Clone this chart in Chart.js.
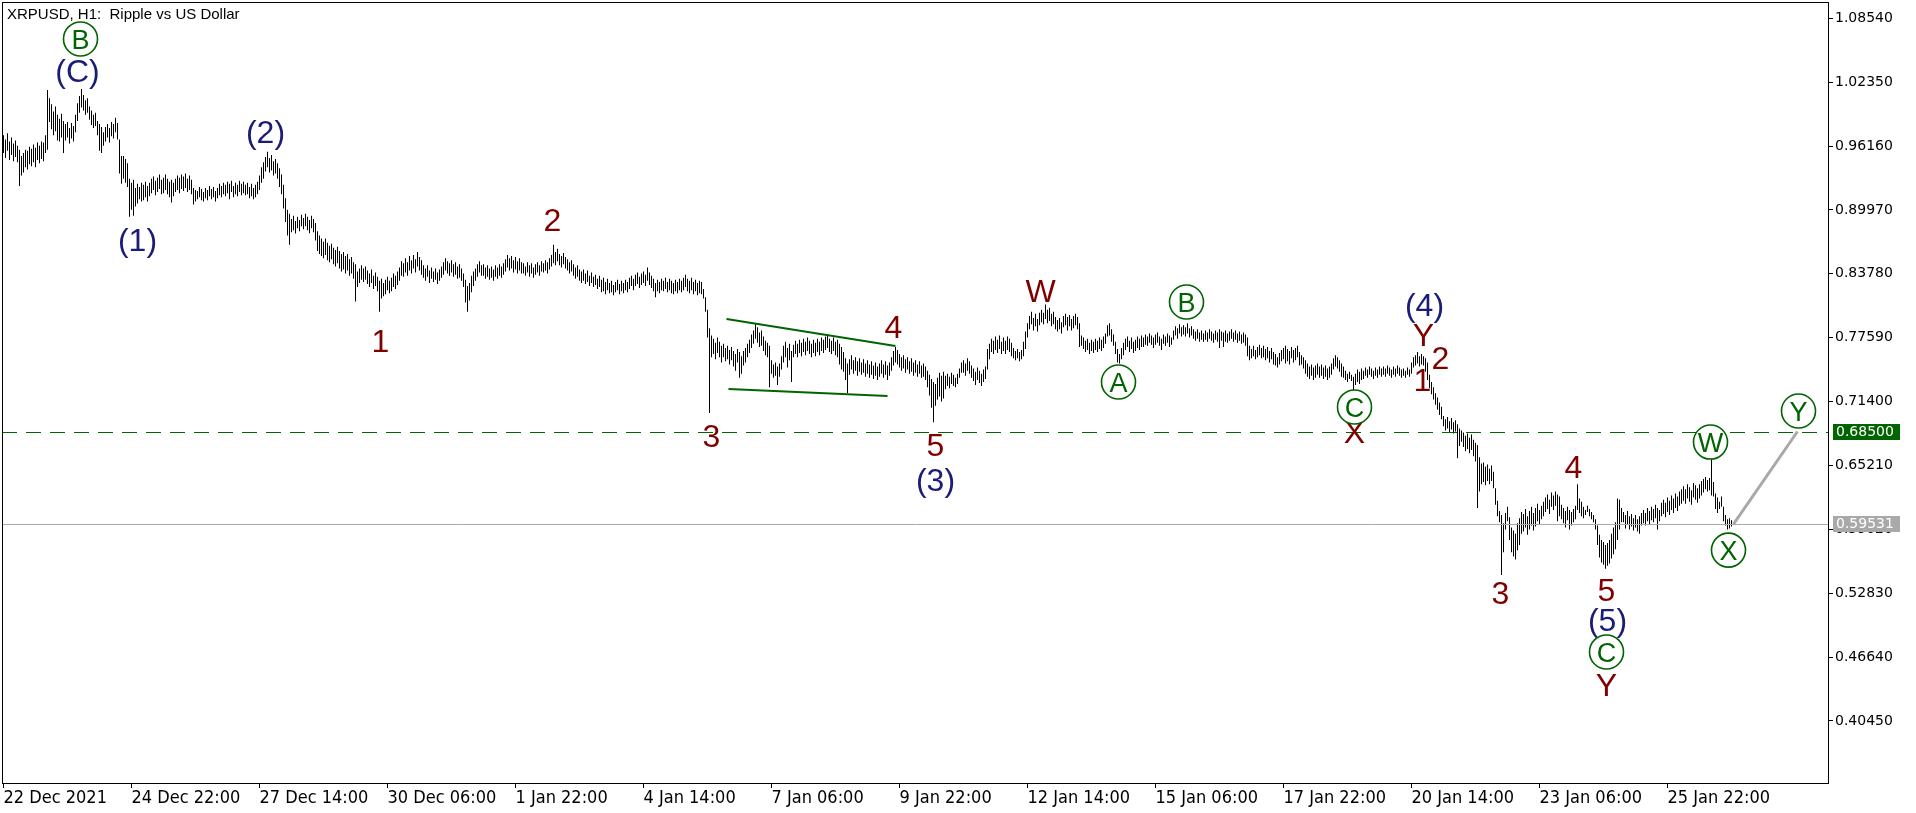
<!DOCTYPE html>
<html><head><meta charset="utf-8">
<script src="https://cdn.jsdelivr.net/npm/chart.js@4.4.1/dist/chart.umd.min.js"></script>
<style>html,body{margin:0;padding:0;background:#fff;overflow:hidden}canvas{display:block}</style>
</head><body>
<canvas id="c" width="1916" height="813"></canvas>
<script>
// ---- data (XRPUSD H1, first bar 22 Dec 2021 06:00) ----
const chartTitle = 'XRPUSD, H1:  Ripple vs US Dollar';
const timeLabels = ['22 Dec 2021','24 Dec 22:00','27 Dec 14:00','30 Dec 06:00','1 Jan 22:00','4 Jan 14:00','7 Jan 06:00','9 Jan 22:00','12 Jan 14:00','15 Jan 06:00','17 Jan 22:00','20 Jan 14:00','23 Jan 06:00','25 Jan 22:00'];
const timeLabelBars = [0,64,128,192,256,320,384,448,512,576,640,704,768,832];
const priceTicks = [1.0854,1.0235,0.9616,0.8997,0.8378,0.7759,0.7140,0.6521,0.5902,0.5283,0.4664,0.4045];

const barHigh = [
.972,.968,.974,.966,.970,.964,.967,.962,.958,.952,
.955,.958,.957,.961,.959,.963,.960,.965,.962,.966,
.965,.972,1.016,1.008,1.002,.995,1.000,.992,.988,.993,
.986,.983,.985,.979,.984,.981,.992,1.003,1.010,1.017,
1.011,1.006,1.008,1.000,.996,.992,.994,.986,.983,.980,
.975,.980,.983,.979,.985,.983,.989,.984,.968,.952,
.952,.949,.945,.930,.926,.929,.921,.925,.922,.926,
.924,.927,.923,.926,.930,.932,.928,.931,.934,.929,
.931,.934,.930,.927,.929,.926,.930,.933,.931,.934,
.932,.935,.930,.933,.929,.921,.919,.918,.922,.920,
.917,.921,.919,.923,.920,.922,.918,.921,.925,.923,
.926,.924,.927,.925,.928,.923,.926,.924,.928,.925,
.927,.924,.926,.922,.925,.921,.924,.927,.933,.941,
.946,.951,.956,.950,.953,.947,.949,.945,.940,.934,
.924,.911,.900,.896,.891,.894,.889,.893,.890,.895,
.892,.896,.893,.890,.894,.891,.887,.879,.875,.872,
.869,.872,.868,.865,.867,.863,.861,.864,.860,.857,
.859,.855,.857,.852,.854,.849,.847,.840,.843,.846,
.843,.845,.841,.838,.842,.836,.839,.835,.831,.833,
.829,.832,.835,.831,.834,.838,.836,.840,.844,.850,
.848,.853,.849,.855,.851,.856,.852,.859,.854,.851,
.846,.843,.846,.841,.844,.840,.843,.839,.842,.845,
.849,.853,.850,.848,.851,.847,.849,.845,.847,.843,
.838,.832,.826,.829,.836,.840,.843,.847,.850,.846,
.847,.844,.846,.843,.845,.842,.846,.844,.847,.845,
.848,.852,.856,.853,.855,.851,.854,.850,.853,.849,
.848,.845,.849,.846,.848,.844,.847,.849,.846,.850,
.848,.851,.849,.853,.856,.866,.859,.862,.857,.855,
.858,.854,.852,.849,.851,.847,.844,.846,.842,.840,
.842,.838,.841,.836,.839,.835,.837,.833,.836,.832,
.834,.830,.833,.829,.831,.827,.830,.832,.828,.831,
.829,.832,.830,.834,.836,.833,.837,.839,.835,.838,
.840,.837,.844,.839,.836,.833,.829,.832,.830,.833,
.831,.834,.830,.833,.831,.829,.832,.830,.833,.831,
.834,.837,.833,.831,.834,.830,.832,.829,.831,.830,
.823,.815,.803,.785,.778,.775,.771,.776,.772,.768,
.770,.766,.768,.764,.767,.763,.760,.765,.762,.758,
.763,.766,.770,.774,.779,.783,.790,.786,.781,.783,
.777,.773,.771,.768,.754,.750,.752,.748,.751,.758,
.768,.772,.766,.770,.763,.769,.773,.770,.774,.771,
.775,.772,.776,.773,.770,.774,.771,.775,.772,.776,
.774,.777,.779,.775,.773,.776,.772,.774,.770,.767,
.762,.756,.751,.755,.759,.754,.757,.753,.756,.752,
.755,.751,.754,.750,.753,.749,.752,.748,.751,.754,
.750,.753,.749,.752,.757,.763,.767,.764,.760,.757,
.759,.755,.757,.753,.756,.752,.754,.750,.753,.749,
.751,.748,.744,.740,.736,.733,.731,.737,.742,.739,
.743,.739,.741,.738,.742,.740,.737,.741,.746,.752,
.754,.751,.756,.753,.749,.746,.743,.747,.744,.741,
.745,.748,.765,.770,.775,.773,.777,.774,.778,.772,
.776,.773,.777,.775,.771,.766,.763,.765,.762,.764,
.772,.782,.790,.797,.801,.795,.799,.794,.800,.803,
.800,.808,.803,.805,.799,.801,.796,.793,.795,.791,
.797,.799,.796,.798,.794,.797,.799,.796,.790,.778,
.776,.773,.775,.771,.774,.772,.775,.773,.776,.774,
.777,.780,.788,.790,.784,.779,.772,.765,.760,.766,
.771,.775,.777,.773,.776,.772,.774,.777,.775,.778,
.776,.779,.777,.780,.778,.776,.779,.781,.777,.775,
.779,.777,.780,.778,.776,.783,.787,.785,.789,.786,
.788,.786,.790,.785,.787,.784,.782,.784,.781,.783,
.780,.783,.781,.784,.782,.780,.783,.781,.784,.782,
.781,.783,.780,.782,.784,.781,.783,.780,.782,.779,
.781,.779,.776,.768,.765,.768,.764,.767,.769,.766,
.768,.765,.767,.763,.766,.762,.760,.757,.761,.764,
.766,.768,.765,.763,.767,.764,.766,.768,.762,.759,
.757,.754,.751,.748,.750,.747,.749,.751,.748,.750,
.747,.749,.746,.748,.751,.756,.759,.757,.754,.751,
.748,.744,.741,.743,.740,.738,.741,.745,.743,.746,
.744,.747,.745,.748,.746,.744,.747,.745,.748,.746,
.748,.746,.749,.747,.745,.748,.746,.749,.747,.745,
.746,.744,.747,.745,.752,.757,.759,.762,.758,.760,
.758,.756,.752,.740,.733,.728,.722,.718,.713,.709,
.700,.697,.699,.695,.698,.694,.696,.692,.688,.686,
.684,.681,.683,.679,.682,.677,.674,.672,.660,.654,
.655,.651,.653,.649,.652,.646,.630,.618,.608,.604,
.596,.606,.612,.602,.592,.589,.586,.596,.601,.607,
.605,.610,.603,.608,.612,.606,.611,.615,.609,.613,
.617,.621,.624,.619,.626,.623,.627,.624,.622,.614,
.611,.608,.612,.609,.607,.610,.613,.634,.620,.617,
.612,.609,.613,.610,.607,.604,.600,.594,.585,.580,
.578,.575,.577,.580,.586,.592,.597,.620,.619,.611,
.607,.604,.608,.603,.605,.601,.604,.600,.603,.606,
.609,.606,.611,.608,.612,.610,.614,.611,.609,.616,
.619,.616,.621,.618,.623,.620,.625,.622,.627,.629,
.632,.629,.634,.631,.628,.635,.633,.630,.634,.637,
.639,.641,.638,.640,.659,.636,.625,.621,.617,.622,
.612,.604,.600,.601,.599
];
const barLow = [
.955,.950,.957,.948,.953,.947,.951,.946,.923,.933,
.936,.941,.939,.944,.942,.946,.941,.948,.945,.949,
.947,.955,.958,.985,.978,.972,.976,.967,.966,.970,
.955,.967,.970,.964,.969,.966,.975,.986,.994,.999,
.996,.992,.994,.987,.982,.979,.981,.972,.957,.955,
.962,.966,.970,.965,.971,.969,.975,.968,.935,.925,
.930,.926,.922,.893,.900,.894,.903,.906,.910,.908,
.909,.912,.908,.913,.916,.919,.914,.917,.920,.915,
.916,.919,.915,.912,.907,.913,.917,.919,.916,.920,
.918,.921,.917,.919,.915,.905,.908,.910,.912,.909,
.908,.911,.909,.913,.910,.912,.908,.911,.914,.912,
.915,.913,.916,.910,.917,.912,.915,.913,.917,.914,
.916,.914,.915,.911,.913,.910,.912,.915,.919,.926,
.930,.937,.941,.936,.938,.933,.935,.930,.922,.915,
.901,.888,.875,.866,.878,.880,.877,.882,.879,.884,
.881,.884,.880,.877,.882,.878,.870,.860,.857,.855,
.853,.856,.851,.849,.852,.847,.845,.848,.843,.840,
.842,.838,.841,.836,.838,.833,.811,.825,.829,.832,
.830,.832,.828,.825,.829,.823,.826,.821,.801,.814,
.816,.818,.822,.819,.821,.825,.823,.827,.831,.836,
.835,.839,.836,.841,.838,.843,.839,.845,.841,.837,
.834,.831,.835,.829,.833,.830,.832,.828,.831,.834,
.837,.841,.838,.836,.839,.835,.837,.833,.834,.831,
.825,.810,.801,.812,.820,.826,.831,.835,.839,.836,
.836,.833,.835,.832,.834,.831,.835,.833,.836,.834,
.837,.840,.844,.841,.843,.839,.842,.838,.841,.838,
.838,.836,.839,.835,.838,.834,.837,.839,.836,.840,
.839,.841,.838,.842,.845,.848,.846,.850,.846,.844,
.847,.843,.841,.838,.840,.836,.833,.835,.831,.829,
.831,.828,.830,.826,.829,.825,.827,.823,.825,.820,
.821,.818,.822,.819,.820,.817,.820,.822,.818,.821,
.819,.822,.820,.823,.826,.822,.826,.828,.824,.827,
.829,.826,.831,.827,.824,.821,.815,.821,.819,.822,
.821,.823,.820,.822,.819,.818,.821,.819,.822,.820,
.822,.825,.821,.819,.822,.818,.821,.817,.819,.818,
.814,.801,.776,.703,.757,.760,.755,.761,.757,.752,
.757,.753,.755,.750,.754,.748,.744,.752,.737,.741,
.749,.752,.757,.761,.766,.770,.775,.771,.767,.768,
.763,.759,.757,.728,.741,.737,.739,.730,.738,.745,
.752,.757,.747,.754,.733,.757,.760,.757,.761,.758,
.762,.759,.763,.760,.757,.761,.758,.762,.759,.763,
.761,.764,.766,.762,.760,.763,.759,.757,.750,.745,
.743,.735,.722,.740,.745,.741,.744,.739,.743,.740,
.742,.738,.741,.737,.740,.736,.739,.735,.738,.741,
.737,.740,.735,.739,.744,.749,.752,.750,.747,.744,
.746,.742,.745,.741,.743,.739,.742,.738,.741,.737,
.738,.735,.728,.720,.708,.694,.710,.716,.719,.714,
.717,.726,.729,.727,.731,.729,.728,.731,.737,.742,
.742,.739,.744,.741,.737,.734,.730,.735,.732,.729,
.733,.736,.745,.755,.762,.760,.764,.761,.765,.760,
.763,.760,.764,.762,.758,.756,.754,.756,.753,.755,
.758,.765,.776,.784,.789,.783,.787,.782,.788,.791,
.789,.794,.790,.792,.787,.789,.784,.782,.784,.780,
.786,.788,.783,.787,.783,.785,.788,.784,.767,.768,
.765,.762,.764,.760,.763,.761,.764,.762,.765,.763,
.766,.770,.777,.778,.772,.768,.760,.752,.751,.755,
.759,.764,.767,.762,.765,.761,.763,.766,.764,.767,
.767,.769,.768,.771,.769,.766,.769,.771,.768,.764,
.770,.768,.771,.767,.769,.774,.778,.775,.780,.777,
.779,.777,.780,.776,.778,.775,.773,.775,.772,.774,
.772,.774,.772,.775,.773,.771,.774,.772,.766,.773,
.767,.772,.771,.773,.775,.772,.774,.771,.773,.770,
.771,.768,.758,.754,.756,.758,.755,.757,.759,.756,
.757,.754,.756,.752,.755,.750,.749,.747,.750,.753,
.755,.751,.753,.750,.756,.752,.754,.757,.749,.750,
.746,.741,.738,.736,.739,.735,.737,.740,.737,.739,
.736,.738,.735,.737,.740,.745,.748,.746,.743,.738,
.737,.735,.733,.736,.734,.722,.730,.733,.731,.735,
.736,.739,.737,.740,.738,.736,.739,.737,.740,.738,
.740,.738,.741,.739,.737,.740,.738,.741,.739,.737,
.739,.737,.740,.738,.741,.747,.749,.751,.748,.750,
.749,.743,.735,.727,.721,.716,.711,.706,.701,.697,
.690,.686,.688,.684,.687,.683,.685,.659,.671,.675,
.670,.666,.668,.664,.667,.661,.656,.611,.627,.634,
.636,.633,.637,.634,.637,.630,.614,.603,.597,.546,
.568,.590,.598,.580,.568,.564,.561,.570,.575,.586,
.588,.592,.585,.590,.594,.589,.593,.598,.595,.600,
.603,.607,.610,.605,.612,.609,.613,.598,.603,.600,
.596,.592,.599,.590,.594,.597,.600,.609,.606,.603,
.601,.604,.607,.603,.600,.597,.590,.575,.563,.558,
.556,.552,.555,.557,.562,.566,.571,.580,.590,.597,
.597,.591,.595,.590,.593,.589,.592,.588,.586,.594,
.596,.594,.598,.595,.599,.597,.601,.590,.598,.603,
.605,.602,.607,.604,.609,.606,.611,.608,.613,.615,
.618,.615,.620,.617,.614,.621,.619,.616,.620,.623,
.626,.629,.627,.628,.623,.622,.610,.606,.610,.612,
.598,.594,.590,.591,.593
];

const lastPrice = 0.59531;
const targetLevel = 0.685;

// wave labels: [text, bar index, price]
const navyLabels = [['(C)',37,1.0343],['(1)',67,0.8706],['(2)',131,0.9761],['(3)',466,0.6380],['(4)',710.5,0.8076],['(5)',802,0.5025]];
const maroonLabels = [['1',188.5,0.7727],['2',274.5,0.8900],['3',354,0.6807],['4',445,0.7863],['5',466,0.6719],['W',518.5,0.8212],['X',675.5,0.6845],['Y',710,0.7785],['1',709.5,0.7349],['2',718.5,0.7562],['3',748.5,0.5285],['4',785,0.6506],['5',801.5,0.5314],['Y',801.5,0.4394]];
const circledLabels = [['B',38.5,1.0654],['A',557.5,0.7330],['B',591.5,0.8105],['C',675.5,0.7088],['C',801.5,0.4714],['W',853.5,0.6748],['X',862.5,0.5701],['Y',897.5,0.7049]];
const triangleUpper = [[361.5,0.7940],[446,0.7679]];
const triangleLower = [[362.5,0.7262],[442,0.7194]];
const projection = [[865,0.5953],[897,0.685]];

// ---- chart ----
const bars = barHigh.map((h,i)=>({x:i, y:[barLow[i], h]}));
const GREEN = '#006400', NAVY = '#1b1b78', MAROON = '#800000', GRAY = '#a9a9a9';
const AXIS_FONT = '"DejaVu Sans", sans-serif';

const overlay = {
  id:'overlay',
  beforeDatasetsDraw(chart){
    const ctx = chart.ctx;
    ctx.save();
    ctx.fillStyle='#000';
    ctx.font = '15px "Liberation Sans", Arial, sans-serif';
    ctx.textAlign='left'; ctx.textBaseline='alphabetic';
    ctx.fillText(chartTitle, 7, 19);
    ctx.restore();
  },
  afterDatasetsDraw(chart){
    const ctx = chart.ctx, a = chart.chartArea, X = chart.scales.x, Y = chart.scales.y;
    const px = i => X.getPixelForValue(i), py = v => Y.getPixelForValue(v);
    ctx.save();
    ctx.strokeStyle = GRAY; ctx.lineWidth = 1;
    const yl = Math.round(py(lastPrice)) + 0.5;
    ctx.beginPath(); ctx.moveTo(a.left, yl); ctx.lineTo(a.right, yl); ctx.stroke();
    ctx.strokeStyle = GREEN; ctx.setLineDash([15,9]);
    const yt = Math.round(py(targetLevel)) + 0.5;
    ctx.beginPath(); ctx.moveTo(a.left, yt); ctx.lineTo(a.right, yt); ctx.stroke();
    ctx.setLineDash([]);
    ctx.lineWidth = 2; ctx.strokeStyle = GREEN;
    [triangleUpper, triangleLower].forEach(l=>{
      ctx.beginPath(); ctx.moveTo(px(l[0][0]), py(l[0][1])); ctx.lineTo(px(l[1][0]), py(l[1][1])); ctx.stroke();
    });
    ctx.lineWidth = 3; ctx.strokeStyle = GRAY;
    ctx.beginPath(); ctx.moveTo(px(projection[0][0]), py(projection[0][1])); ctx.lineTo(px(projection[1][0]), py(projection[1][1])); ctx.stroke();
    ctx.textAlign = 'center'; ctx.textBaseline = 'alphabetic';
    const big = 32;
    ctx.font = big + 'px "Liberation Sans", Arial, sans-serif';
    ctx.fillStyle = NAVY;
    navyLabels.forEach(([t,i,v])=>ctx.fillText(t, px(i), py(v) + 0.358*big));
    ctx.fillStyle = MAROON;
    maroonLabels.forEach(([t,i,v])=>ctx.fillText(t, px(i), py(v) + 0.358*big));
    const sm = 27;
    ctx.font = sm + 'px "Liberation Sans", Arial, sans-serif';
    circledLabels.forEach(([t,i,v])=>{
      const x = px(i), y = py(v);
      ctx.fillStyle = '#fff';
      ctx.beginPath(); ctx.arc(x, y, 17, 0, Math.PI*2); ctx.fill();
      ctx.strokeStyle = GREEN; ctx.lineWidth = 1.6;
      ctx.beginPath(); ctx.arc(x, y, 17, 0, Math.PI*2); ctx.stroke();
      ctx.fillStyle = GREEN;
      ctx.fillText(t, x, y + 0.358*sm);
    });
    ctx.restore();
  },
  afterDraw(chart){
    const ctx = chart.ctx, a = chart.chartArea, Y = chart.scales.y;
    ctx.save();
    ctx.strokeStyle = '#000'; ctx.lineWidth = 1;
    ctx.strokeRect(a.left + 0.5, a.top + 0.5, a.right - a.left - 1, a.bottom - a.top - 1);
    ctx.font = '14px ' + AXIS_FONT; ctx.textAlign = 'left'; ctx.textBaseline = 'middle';
    [[targetLevel, GREEN],[lastPrice, GRAY]].forEach(([v,c])=>{
      const y = Math.round(Y.getPixelForValue(v));
      ctx.fillStyle = c; ctx.fillRect(a.right + 4, y - 8, 67, 16);
      ctx.fillStyle = '#fff'; ctx.fillText(v.toFixed(5), a.right + 7, y + 0.5);
    });
    ctx.restore();
  }
};

new Chart(document.getElementById('c'), {
  type: 'bar',
  data: { datasets: [{ data: bars, backgroundColor: '#000', borderWidth: 0, barThickness: 1, inflateAmount: 0, grouped: false }] },
  options: {
    responsive: false, animation: false, devicePixelRatio: 1,
    layout: { padding: { left: 2, top: 2, right: 0, bottom: 0 } },
    plugins: { legend: { display: false }, tooltip: { enabled: false } },
    scales: {
      x: {
        type: 'linear', min: -0.75, max: 912.75, offset: false, bounds: 'data',
        afterBuildTicks: s => { s.ticks = timeLabelBars.map(v => ({ value: v })); },
        afterFit: s => { s.height = 29; s.paddingLeft = 0; s.paddingRight = 0; },
        grid: { display: true, drawOnChartArea: false, drawTicks: true, tickLength: 4, color: '#000', offset: false },
        border: { display: false },
        ticks: { autoSkip: false, maxRotation: 0, minRotation: 0, align: 'start', padding: 0, color: '#000',
          font: { family: '"Liberation Sans Narrow","DejaVu Sans Condensed","Liberation Sans"', size: 18 },
          callback: (v, i) => timeLabels[i] }
      },
      y: {
        position: 'right', min: 0.34345, max: 1.1012, bounds: 'data',
        afterBuildTicks: s => { s.ticks = priceTicks.map(v => ({ value: v })); },
        afterFit: s => { s.width = 87; s.paddingTop = 0; s.paddingBottom = 0; },
        grid: { display: true, drawOnChartArea: false, drawTicks: true, tickLength: 4, color: '#000' },
        border: { display: false },
        ticks: { autoSkip: false, padding: 2, color: '#000', font: { family: AXIS_FONT, size: 14 },
          callback: v => v.toFixed(5) }
      }
    }
  },
  plugins: [overlay]
});
</script>
</body></html>
